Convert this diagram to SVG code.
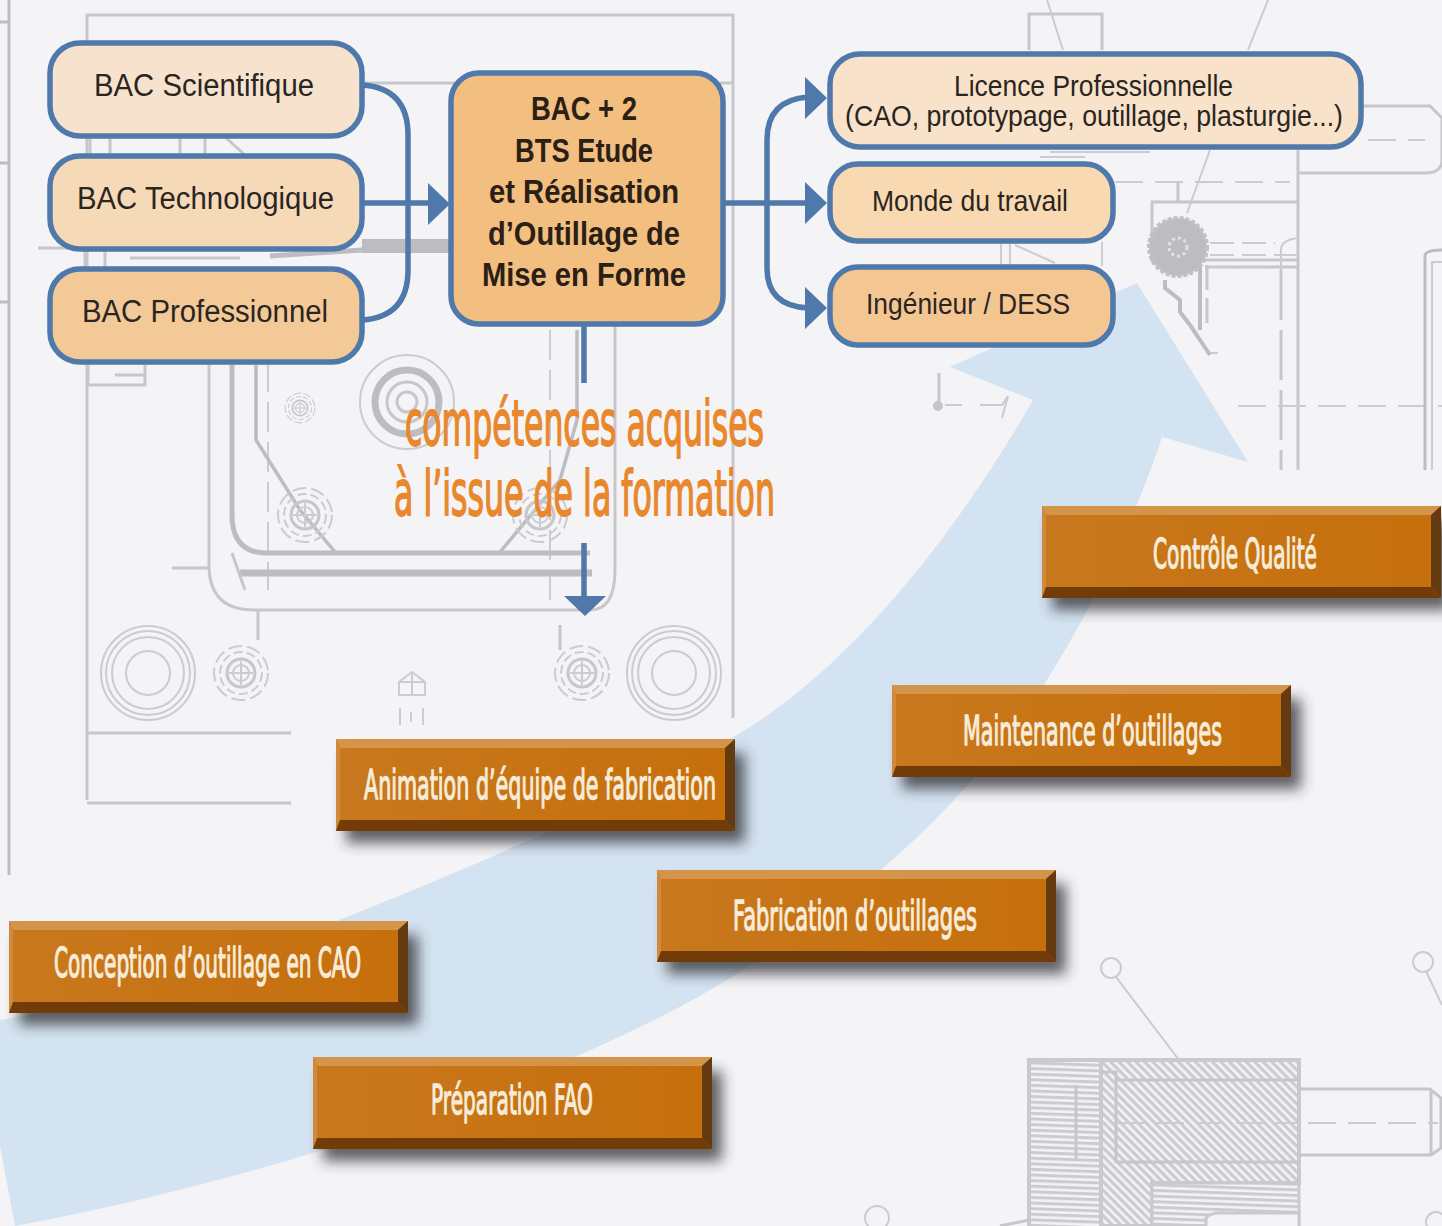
<svg xmlns="http://www.w3.org/2000/svg" xmlns:xlink="http://www.w3.org/1999/xlink" width="1442" height="1226" viewBox="0 0 1442 1226">
<style>
.d{fill:none;stroke:#c6c6cb;stroke-width:3}
.t{fill:none;stroke:#cbcbd0;stroke-width:2}
.k{fill:none;stroke:#bcbcc2;stroke-width:6}
.dsh{stroke-dasharray:28 12}
.n{stroke:#4f78ab;stroke-width:5.5}
.c{fill:none;stroke:#4f78ab;stroke-width:5.5}
.h{fill:#4f78ab}
.l{font-family:"Liberation Sans",Arial,sans-serif;font-size:31px;fill:#2b2522}
.b{font-family:"Liberation Sans",Arial,sans-serif;font-size:33px;font-weight:bold;fill:#2b2016}
.o{font-family:"DejaVu Sans",sans-serif;font-size:41px;fill:#f7ecd9;stroke:#f7ecd9;stroke-width:1.4}
.m{font-family:"DejaVu Sans",sans-serif;font-size:62px;fill:#e8872c;stroke:#e8872c;stroke-width:1.8}
</style>
<defs>
<filter id="sh" x="-10%" y="-30%" width="125%" height="170%"><feGaussianBlur stdDeviation="7"/></filter>
<linearGradient id="face" x1="0" y1="0" x2="1" y2="0"><stop offset="0" stop-color="#c8781d"/><stop offset="1" stop-color="#c66f0c"/></linearGradient>
<pattern id="hatchA" width="6" height="6" patternUnits="userSpaceOnUse" patternTransform="rotate(45)"><rect width="6" height="6" fill="#f3f2f6"/><rect width="6" height="3.2" fill="#cbcbd0"/></pattern>
<pattern id="hatchB" width="14" height="5.6" patternUnits="userSpaceOnUse" patternTransform="rotate(2)"><rect width="14" height="5.6" fill="#f3f2f6"/><rect width="14" height="3" fill="#cbcbd0"/></pattern>
<g id="bevel">
<rect x="10" y="14" width="399" height="90" fill="#28262c" opacity="0.72" filter="url(#sh)"/>
<rect width="399" height="92" fill="url(#face)"/>
<polygon points="0,0 399,0 389,9 4,9" fill="#d4944a"/>
<polygon points="0,0 4,9 4,81 0,92" fill="#d08a3e"/>
<polygon points="399,0 399,92 389,81 389,9" fill="#643a10"/>
<polygon points="0,92 4,81 389,81 399,92" fill="#713c08"/>
</g>
<g id="bolt">
<circle r="27" class="t" stroke-dasharray="14 5"/><circle r="21" class="t" stroke-dasharray="9 4"/><circle r="14" class="d"/><circle r="8" class="t"/><path d="M-12 0H12M0-12V12" class="t"/>
</g>
<g id="ring">
<circle r="47" class="t"/><circle r="42" class="t"/><circle r="36" class="t"/><circle r="22" class="t"/>
</g>
<polygon id="head" points="-22,-21 0,0 -22,21" class="h"/>
</defs>

<rect width="1442" height="1226" fill="#f4f3f6"/>

<g id="drawing">
<path class="k" style="stroke-width:3" d="M9 0V875M0 22H9M0 163H9M0 302H9"/>
<path class="d" d="M87 800V15H733V718M362 83H733M87 733H291M87 803H291"/>
<path class="d" d="M209 360V565Q209 610 254 610H590Q615 610 615 570V325"/>
<path class="t" style="stroke-dasharray:30 10" d="M268 362V590M550 330V600"/>
<path class="k" style="stroke-width:5" d="M232 365V515Q232 552 265 553H590"/>
<path class="k" style="stroke-width:7" d="M240 573H592"/>
<path class="k" style="stroke-width:3.5" d="M256 365V440L300 510L335 552M577 330V420L560 480L500 552"/>
<path class="d" d="M172 568H208M258 610V640M560 625V650M232 553L245 590"/>
<circle cx="407" cy="402" r="47" class="t"/><circle cx="407" cy="402" r="32" class="k" style="stroke-width:7"/><circle cx="407" cy="402" r="20" class="d"/><circle cx="407" cy="402" r="10" class="d"/>
<use xlink:href="#bolt" transform="translate(300 408) scale(.55)"/>
<use xlink:href="#bolt" transform="translate(305 515)"/>
<use xlink:href="#bolt" transform="translate(540 515)"/>
<use xlink:href="#ring" transform="translate(148 673)"/>
<use xlink:href="#ring" transform="translate(674 673)"/>
<use xlink:href="#bolt" transform="translate(241 673)"/>
<use xlink:href="#bolt" transform="translate(582 673)"/>
<path class="t" d="M399 695H425V682L412 672L399 682ZM412 672V695M399 682H425M400 708V725M411 712V722M423 708V725"/>
<path class="d" d="M38 248H270"/>
<path class="k" style="stroke-width:5" d="M270 256L362 250"/>
<path class="k" style="stroke-width:14" d="M362 246H450"/>
<path class="d" d="M90 137V155M110 137V155M180 137V155M205 137V155M85 250V268M105 250V268M130 258H240M225 137L245 155M88 362V385H145V365M115 375H145"/>
<path class="d" d="M1029 50V14H1102V50"/>
<path class="t" d="M1047 0L1063 50M1268 0L1248 50M1210 150L1187 213M1050 152H1150M1040 157H1085M1001 242V266M1010 242V266M1102 242V266M1015 245L1055 263"/>
<path class="d" d="M1298 150V470M1298 173H1425Q1442 173 1442 160M1362 106H1430L1442 118V165"/>
<path class="t dsh" d="M1368 140H1425M1115 182H1290M1238 406H1442"/>
<path class="d" d="M1152 262V202H1298M1178 182V202M1205 260H1298M1205 267H1298"/>
<path class="t dsh" style="stroke-dasharray:24 8" d="M1210 243H1275M1210 255H1298M1210 267H1275"/>
<path class="t" d="M1281 290V250Q1281 240 1298 238"/>
<path class="d" style="stroke-dasharray:50 10" d="M1281 270V470"/>
<circle cx="1178" cy="247" r="29" fill="#bcbcc1" stroke="#c0c0c5" stroke-width="4" stroke-dasharray="4 2"/>
<circle cx="1178" cy="247" r="9" fill="none" stroke="#e2e2e6" stroke-width="3" stroke-dasharray="3 3"/>
<path class="k" style="stroke-width:4" d="M1165 280V288L1180 300V312L1190 325L1210 355M1200 265V330"/>
<path class="d" style="stroke-dasharray:25 8" d="M1207 265V330"/>
<path class="t" d="M1210 353H1218M1432 470V262H1442"/>
<path class="k" style="stroke-width:3" d="M1425 470V256Q1425 250 1442 250"/>
<path class="d" d="M939 373V405"/><circle cx="938" cy="406" r="5" fill="#c4c4c9"/>
<path class="t" d="M945 405H962M980 405H1002L1008 396L1002 418"/>
<rect x="1029" y="1060" width="72" height="170" fill="url(#hatchB)" stroke="#c9c9ce" stroke-width="4"/>
<path d="M1101 1060H1299V1183H1152V1226H1101Z" fill="url(#hatchA)" stroke="#c9c9ce" stroke-width="4"/>
<path d="M1152 1183H1299V1226H1152Z" fill="url(#hatchB)" stroke="#c9c9ce" stroke-width="3"/>
<path class="d" d="M1076 1085V1160M1101 1072H1116V1163M1116 1080H1299M1116 1162H1299"/>
<path d="M1206 1228V1218Q1210 1213 1220 1213H1299V1228Z" fill="#f4f3f6" stroke="#c9c9ce" stroke-width="3"/>
<path class="d" d="M1299 1089H1430L1441 1098V1148L1431 1155H1299M1431 1089V1155"/>
<path class="t dsh" d="M1308 1123H1438M1116 1123H1299"/>
<circle cx="1111" cy="968" r="10" class="t"/><path class="t" d="M1116 977L1179 1060"/>
<circle cx="1423" cy="962" r="10" class="t"/><path class="t" d="M1426 971L1442 1005"/>
<circle cx="877" cy="1218" r="12" class="t"/><circle cx="1436" cy="1222" r="10" class="t"/>
<path class="d" d="M1000 1226L1029 1220"/>
</g>

<path id="swoosh" fill="#d4e3f1" d="M950 367L1137 283L1248 462L1162 437C1140 505 1095 605 1045 683C960 815 850 905 727 980C600 1058 320 1170 15 1226L0 1146V1020C120 1000 240 960 339 920C470 868 630 800 750 727C870 650 970 510 1033 400Z"/>

<g id="connectors">
<path class="c" d="M362 85Q408 88 408 135V270Q408 317 362 320"/>
<path class="c" d="M362 203H430"/>
<use xlink:href="#head" transform="translate(450 204)"/>
<path class="c" d="M723 203H808"/>
<path class="c" d="M808 97Q767 100 767 140V268Q767 306 808 308"/>
<use xlink:href="#head" transform="translate(827 98)"/>
<use xlink:href="#head" transform="translate(827 203)"/>
<use xlink:href="#head" transform="translate(827 308)"/>
<path class="c" d="M584 324V383M584 543V596"/>
<polygon class="h" points="564,596 606,596 585,616"/>
</g>

<g id="bac-scientifique"><rect class="n" x="50" y="43" width="312" height="93" rx="30" fill="#f7e3cd"/><text class="l" x="94" y="96" textLength="220" lengthAdjust="spacingAndGlyphs">BAC Scientifique</text></g>
<g id="bac-technologique"><rect class="n" x="50" y="156" width="312" height="93" rx="30" fill="#f6dab8"/><text class="l" x="77" y="209" textLength="257" lengthAdjust="spacingAndGlyphs">BAC Technologique</text></g>
<g id="bac-professionnel"><rect class="n" x="50" y="269" width="312" height="93" rx="30" fill="#f2c997"/><text class="l" x="82" y="322" textLength="246" lengthAdjust="spacingAndGlyphs">BAC Professionnel</text></g>
<g id="bac-plus-2"><rect class="n" x="451" y="73" width="272" height="251" rx="28" fill="#f2bf80"/>
<text class="b" x="531" y="120" textLength="106" lengthAdjust="spacingAndGlyphs">BAC + 2</text>
<text class="b" x="515" y="162" textLength="138" lengthAdjust="spacingAndGlyphs">BTS Etude</text>
<text class="b" x="489" y="203" textLength="190" lengthAdjust="spacingAndGlyphs">et Réalisation</text>
<text class="b" x="488" y="245" textLength="192" lengthAdjust="spacingAndGlyphs">d’Outillage de</text>
<text class="b" x="482" y="286" textLength="204" lengthAdjust="spacingAndGlyphs">Mise en Forme</text></g>
<g id="licence"><rect class="n" x="830" y="54" width="531" height="93" rx="30" fill="#f8e2ca"/>
<text class="l" x="954" y="96" style="font-size:29px" textLength="279" lengthAdjust="spacingAndGlyphs">Licence Professionnelle</text>
<text class="l" x="845" y="126" style="font-size:29px" textLength="498" lengthAdjust="spacingAndGlyphs">(CAO, prototypage, outillage, plasturgie...)</text></g>
<g id="monde"><rect class="n" x="830" y="164" width="283" height="77" rx="28" fill="#f8d9b2"/><text class="l" x="872" y="211" style="font-size:29.5px" textLength="196" lengthAdjust="spacingAndGlyphs">Monde du travail</text></g>
<g id="ingenieur"><rect class="n" x="830" y="267" width="283" height="78" rx="28" fill="#f3c692"/><text class="l" x="866" y="314" style="font-size:29.5px" textLength="204" lengthAdjust="spacingAndGlyphs">Ingénieur / DESS</text></g>

<g id="competences-title">
<text class="m" transform="translate(405 445) scale(.5 1)" textLength="718" lengthAdjust="spacingAndGlyphs">compétences acquises</text>
<text class="m" transform="translate(394 515) scale(.5 1)" textLength="762" lengthAdjust="spacingAndGlyphs">à l’issue de la formation</text>
</g>

<g id="controle"><use xlink:href="#bevel" transform="translate(1042 506)"/><text class="o" transform="translate(1153 568) scale(.5 1)" textLength="328" lengthAdjust="spacingAndGlyphs">Contrôle Qualité</text></g>
<g id="maintenance"><use xlink:href="#bevel" transform="translate(892 685)"/><text class="o" transform="translate(963 745) scale(.5 1)" textLength="518" lengthAdjust="spacingAndGlyphs">Maintenance d’outillages</text></g>
<g id="animation"><use xlink:href="#bevel" transform="translate(336 739)"/><text class="o" transform="translate(364 799) scale(.5 1)" textLength="704" lengthAdjust="spacingAndGlyphs">Animation d’équipe de fabrication</text></g>
<g id="fabrication"><use xlink:href="#bevel" transform="translate(657 870)"/><text class="o" transform="translate(733 930) scale(.5 1)" textLength="488" lengthAdjust="spacingAndGlyphs">Fabrication d’outillages</text></g>
<g id="conception"><use xlink:href="#bevel" transform="translate(9 921)"/><text class="o" transform="translate(54 977) scale(.5 1)" textLength="614" lengthAdjust="spacingAndGlyphs">Conception d’outillage en CAO</text></g>
<g id="preparation"><use xlink:href="#bevel" transform="translate(313 1057)"/><text class="o" transform="translate(431 1114) scale(.5 1)" textLength="324" lengthAdjust="spacingAndGlyphs">Préparation FAO</text></g>
</svg>
